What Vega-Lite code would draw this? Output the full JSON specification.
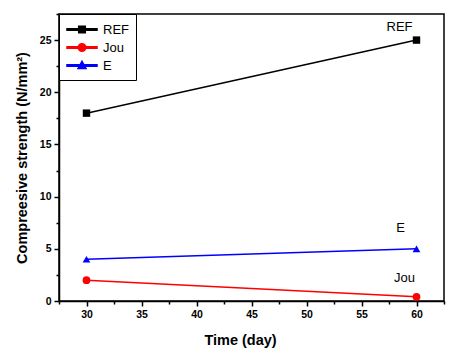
{
  "$schema": "https://vega.github.io/schema/vega-lite/v6.json",
  "width": 385,
  "height": 287,
  "autosize": "none",
  "padding": {"left": 59, "top": 14, "right": 6, "bottom": 57},
  "background": "white",
  "config": {
    "font": "Liberation Sans",
    "view": {"stroke": "black", "strokeWidth": 1.5},
    "axis": {
      "grid": false,
      "domainColor": "black",
      "domainWidth": 1.5,
      "tickColor": "black",
      "tickWidth": 1.5,
      "labelColor": "black",
      "labelFont": "Liberation Sans",
      "labelFontWeight": "bold",
      "labelFontSize": 10.5,
      "titleColor": "black",
      "titleFont": "Liberation Sans",
      "titleFontWeight": "bold",
      "titleFontSize": 14.5
    }
  },
  "data": {
    "values": [
      {"series": "REF", "day": 30, "strength": 18},
      {"series": "REF", "day": 60, "strength": 25},
      {"series": "Jou", "day": 30, "strength": 2},
      {"series": "Jou", "day": 60, "strength": 0.4},
      {"series": "E", "day": 30, "strength": 4},
      {"series": "E", "day": 60, "strength": 5}
    ]
  },
  "encoding": {
    "x": {
      "field": "day",
      "type": "quantitative",
      "scale": {"domain": [27.5, 62.5], "nice": false, "zero": false},
      "axis": {
        "title": "Time (day)",
        "values": [27.5, 30, 32.5, 35, 37.5, 40, 42.5, 45, 47.5, 50, 52.5, 55, 57.5, 60, 62.5],
        "labelExpr": "datum.value % 5 === 0 ? datum.label : ''",
        "tickSize": {"condition": {"test": "datum.value % 5 === 0", "value": 5}, "value": 3},
        "labelPadding": 3,
        "titlePadding": 14,
        "titleX": 181
      }
    },
    "y": {
      "field": "strength",
      "type": "quantitative",
      "scale": {"domain": [0, 27.5], "nice": false},
      "axis": {
        "title": "Compreesive strength (N/mm²)",
        "values": [0, 2.5, 5, 7.5, 10, 12.5, 15, 17.5, 20, 22.5, 25, 27.5],
        "labelExpr": "datum.value % 5 === 0 ? datum.label : ''",
        "tickSize": {"condition": {"test": "datum.value % 5 === 0", "value": 5}, "value": 3},
        "labelPadding": 3,
        "titlePadding": 10
      }
    }
  },
  "layer": [
    {
      "mark": {"type": "line", "strokeWidth": 1.5},
      "encoding": {
        "color": {
          "field": "series",
          "type": "nominal",
          "scale": {"domain": ["REF", "Jou", "E"], "range": ["#000000", "#ff0000", "#0000ff"]}
        }
      }
    },
    {
      "mark": {"type": "point", "filled": true, "opacity": 1, "size": 0},
      "encoding": {
        "shape": {
          "field": "series",
          "type": "nominal",
          "scale": {
            "domain": ["REF", "Jou", "E"],
            "range": [
              "M-1,-0.1H3V0.1H-1ZM0.56,-0.44H1.44V0.44H0.56Z",
              "M-1,-0.1H3V0.1H-1ZM1.5,0A0.5,0.5 0 1 1 0.5,0A0.5,0.5 0 1 1 1.5,0Z",
              "M-1,-0.1H3V0.1H-1ZM1,-0.55L1.53,0.4H0.47Z"
            ]
          },
          "legend": null
        },
        "color": {
          "field": "series",
          "type": "nominal",
          "scale": {"domain": ["REF", "Jou", "E"], "range": ["#000000", "#ff0000", "#0000ff"]},
          "legend": {
            "title": null,
            "orient": "none",
            "legendX": 0,
            "legendY": 0,
            "strokeColor": "black",
            "fillColor": "white",
            "padding": 7,
            "rowPadding": 2,
            "symbolSize": 225,
            "symbolOpacity": 1,
            "labelOffset": 20,
            "labelFontSize": 13,
            "labelFont": "Liberation Sans",
            "labelColor": "black"
          }
        }
      }
    },
    {
      "transform": [{"filter": "datum.series === 'REF'"}],
      "mark": {"type": "point", "shape": "square", "filled": true, "opacity": 1, "size": 55, "color": "#000000"}
    },
    {
      "transform": [{"filter": "datum.series === 'Jou'"}],
      "mark": {"type": "point", "shape": "circle", "filled": true, "opacity": 1, "size": 60, "color": "#ff0000"}
    },
    {
      "transform": [{"filter": "datum.series === 'E'"}],
      "mark": {"type": "point", "shape": "triangle-up", "filled": true, "opacity": 1, "size": 60, "color": "#0000ff"}
    },
    {
      "transform": [{"filter": "datum.day === 60 && datum.series === 'REF'"}],
      "mark": {"type": "text", "fontSize": 13, "font": "Liberation Sans", "color": "black", "dx": -17, "dy": -13},
      "encoding": {"text": {"field": "series"}}
    },
    {
      "transform": [{"filter": "datum.day === 60 && datum.series === 'E'"}],
      "mark": {"type": "text", "fontSize": 13, "font": "Liberation Sans", "color": "black", "dx": -16, "dy": -21},
      "encoding": {"text": {"field": "series"}}
    },
    {
      "transform": [{"filter": "datum.day === 60 && datum.series === 'Jou'"}],
      "mark": {"type": "text", "fontSize": 13, "font": "Liberation Sans", "color": "black", "dx": -12, "dy": -19},
      "encoding": {"text": {"field": "series"}}
    }
  ]
}
